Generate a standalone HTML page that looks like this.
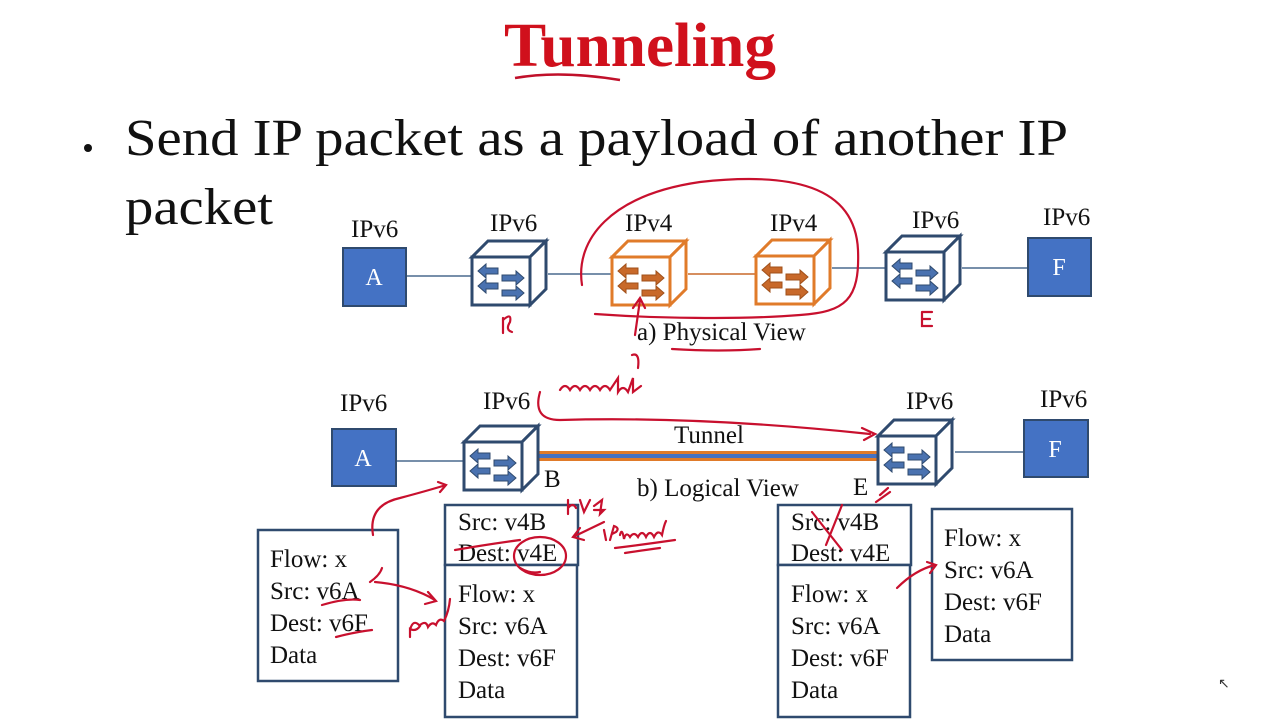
<!DOCTYPE html>
<html><head><meta charset="utf-8"><style>
html,body{margin:0;padding:0;background:#fff;}
svg{display:block;}
text{font-family:"Liberation Serif","Times New Roman",serif;fill:#111;}
</style></head><body>
<svg width="1280" height="720" viewBox="0 0 1280 720" xmlns="http://www.w3.org/2000/svg" font-family="Liberation Serif, serif">
<defs>
<g id="rb">
  <polygon points="0,16 16,0 74,0 58,16" fill="#fff" stroke="#2f4a6e" stroke-width="3"/>
  <polygon points="58,16 74,0 74,48 58,64" fill="#fff" stroke="#2f4a6e" stroke-width="3"/>
  <rect x="0" y="16" width="58" height="48" fill="#fff" stroke="#2f4a6e" stroke-width="3"/>
  <g fill="#4a72b0" stroke="#2f4a6e" stroke-width="1">
    <polygon points="6,30 14,23 14,27 26,27 26,33 14,33 14,37"/>
    <polygon points="6,45 14,38 14,42 26,42 26,48 14,48 14,52"/>
    <polygon points="52,37 44,30 44,34 30,34 30,40 44,40 44,44"/>
    <polygon points="52,52 44,45 44,49 30,49 30,55 44,55 44,59"/>
  </g>
</g>
<g id="ro">
  <polygon points="0,16 16,0 74,0 58,16" fill="#fff" stroke="#e07b2a" stroke-width="3"/>
  <polygon points="58,16 74,0 74,48 58,64" fill="#fff" stroke="#e07b2a" stroke-width="3"/>
  <rect x="0" y="16" width="58" height="48" fill="#fff" stroke="#e07b2a" stroke-width="3"/>
  <g fill="#c8692a" stroke="#a0501a" stroke-width="1">
    <polygon points="6,30 14,23 14,27 26,27 26,33 14,33 14,37"/>
    <polygon points="6,45 14,38 14,42 26,42 26,48 14,48 14,52"/>
    <polygon points="52,37 44,30 44,34 30,34 30,40 44,40 44,44"/>
    <polygon points="52,52 44,45 44,49 30,49 30,55 44,55 44,59"/>
  </g>
</g>
</defs>

<text x="640" y="66" text-anchor="middle" font-size="62" font-weight="bold" style="fill:#d0101c" textLength="272" lengthAdjust="spacingAndGlyphs">Tunneling</text>
<path d="M515,78 Q560,70 620,80" stroke="#c0102a" stroke-width="2.5" fill="none"/>
<circle cx="88" cy="148" r="4" fill="#111"/>
<text x="125" y="155" font-size="52" textLength="943" lengthAdjust="spacingAndGlyphs">Send IP packet as a payload of another IP</text>
<text x="125" y="224" font-size="52" textLength="148" lengthAdjust="spacingAndGlyphs">packet</text>

<line x1="406" y1="276" x2="472" y2="276" stroke="#4a6a8e" stroke-width="1.5"/>
<line x1="548" y1="274" x2="612" y2="274" stroke="#4a6a8e" stroke-width="1.5"/>
<line x1="688" y1="274" x2="756" y2="274" stroke="#c8692a" stroke-width="1.5"/>
<line x1="832" y1="268" x2="886" y2="268" stroke="#4a6a8e" stroke-width="1.5"/>
<line x1="962" y1="268" x2="1028" y2="268" stroke="#4a6a8e" stroke-width="1.5"/>
<rect x="343" y="248" width="63" height="58" fill="#4472c4" stroke="#2f4a6e" stroke-width="2"/>
<text x="374" y="285" text-anchor="middle" font-size="24" style="fill:#fff">A</text>
<rect x="1028" y="238" width="63" height="58" fill="#4472c4" stroke="#2f4a6e" stroke-width="2"/>
<text x="1059" y="275" text-anchor="middle" font-size="24" style="fill:#fff">F</text>
<use href="#rb" x="472" y="241"/>
<use href="#ro" x="612" y="241"/>
<use href="#ro" x="756" y="240"/>
<use href="#rb" x="886" y="236"/>
<g font-size="25">
<text x="351" y="237">IPv6</text>
<text x="490" y="231">IPv6</text>
<text x="625" y="231">IPv4</text>
<text x="770" y="231">IPv4</text>
<text x="912" y="228">IPv6</text>
<text x="1043" y="225">IPv6</text>
<text x="637" y="340">a) Physical View</text>
</g>

<line x1="396" y1="461" x2="464" y2="461" stroke="#4a6a8e" stroke-width="1.5"/>
<line x1="955" y1="452" x2="1024" y2="452" stroke="#4a6a8e" stroke-width="1.5"/>
<rect x="538" y="451" width="342" height="10" fill="#e07b2a"/>
<rect x="538" y="454" width="342" height="4" fill="#4472c4"/>
<rect x="332" y="429" width="64" height="57" fill="#4472c4" stroke="#2f4a6e" stroke-width="2"/>
<text x="363" y="466" text-anchor="middle" font-size="24" style="fill:#fff">A</text>
<rect x="1024" y="420" width="64" height="57" fill="#4472c4" stroke="#2f4a6e" stroke-width="2"/>
<text x="1055" y="457" text-anchor="middle" font-size="24" style="fill:#fff">F</text>
<use href="#rb" x="464" y="426"/>
<use href="#rb" x="878" y="420"/>
<g font-size="25">
<text x="340" y="411">IPv6</text>
<text x="483" y="409">IPv6</text>
<text x="906" y="409">IPv6</text>
<text x="1040" y="407">IPv6</text>
<text x="674" y="443">Tunnel</text>
<text x="544" y="487">B</text>
<text x="853" y="495">E</text>
<text x="637" y="496">b) Logical View</text>
</g>

<g fill="#fff" stroke="#2f4a6e" stroke-width="2.5">
<rect x="258" y="530" width="140" height="151"/>
<rect x="445" y="505" width="133" height="60"/>
<rect x="445" y="565" width="132" height="152"/>
<rect x="778" y="505" width="133" height="60"/>
<rect x="778" y="565" width="132" height="152"/>
<rect x="932" y="509" width="140" height="151"/>
</g>
<g font-size="25">
<text x="270" y="567">Flow: x</text><text x="270" y="599">Src: v6A</text><text x="270" y="631">Dest: v6F</text><text x="270" y="663">Data</text>
<text x="458" y="530">Src: v4B</text><text x="458" y="561">Dest: v4E</text>
<text x="458" y="602">Flow: x</text><text x="458" y="634">Src: v6A</text><text x="458" y="666">Dest: v6F</text><text x="458" y="698">Data</text>
<text x="791" y="530">Src: v4B</text><text x="791" y="561">Dest: v4E</text>
<text x="791" y="602">Flow: x</text><text x="791" y="634">Src: v6A</text><text x="791" y="666">Dest: v6F</text><text x="791" y="698">Data</text>
<text x="944" y="546">Flow: x</text><text x="944" y="578">Src: v6A</text><text x="944" y="610">Dest: v6F</text><text x="944" y="642">Data</text>
</g>

<g stroke="#c8102e" stroke-width="2.2" fill="none" stroke-linecap="round">
<path d="M582,285 C575,240 610,195 700,182 C790,172 855,185 858,250 C860,300 845,312 800,315 C740,320 650,318 595,314"/>
<path d="M635,335 L640,300 M633,308 L640,298 L645,308"/>
<path d="M672,349 Q720,352 760,349"/>
<path d="M503,320 Q512,312 510,322 Q505,330 512,332 M503,318 L503,333"/>
<path d="M922,312 L932,312 M922,312 L922,326 L932,326 M922,319 L930,319"/>
<path d="M632,355 Q640,352 638,368"/>
<path d="M560,390 q5,-8 10,0 q5,-8 10,0 q5,-8 10,0 q5,-8 10,0 q5,-8 10,0 l8,-12 l0,14 q5,-8 10,0 l5,-14 l0,14 l8,-6"/>
<path d="M540,392 Q532,420 560,420 Q700,416 870,434 M862,428 L875,434 L864,440"/>
<path d="M373,535 Q368,505 400,498 Q430,490 446,485 M438,482 L446,485 L440,492"/>
<path d="M370,582 Q380,575 382,568 M322,605 Q345,598 360,600 M336,637 Q355,632 372,630"/>
<path d="M375,582 Q410,585 435,600 M428,592 L436,601 L425,604"/>
<path d="M410,630 q3,-12 10,-4 q-4,6 -10,3 l0,8 M420,625 q6,-5 8,2 q4,-6 8,-2 q3,-8 8,-4 q5,-10 6,-22"/>
<path d="M455,550 Q490,544 520,540"/>
<ellipse cx="540" cy="556" rx="26" ry="19"/>
<path d="M520,568 Q530,574 540,572"/>
<path d="M568,500 l0,14 M568,508 q5,-6 8,0 M580,500 l4,12 l6,-12 M594,506 l8,-6 l-2,14 l4,-4 l-10,0"/>
<path d="M604,522 L575,536 M580,528 L573,537 L584,540"/>
<path d="M604,530 l2,10 M610,540 l4,-14 q6,2 2,6 l-4,2 M620,535 q2,-8 4,4 q2,-8 6,-2 q4,-6 8,0 q4,-8 8,0 q4,-8 8,0 q4,-8 8,-2 q2,-10 4,-14 M615,548 Q640,545 675,540 M625,553 Q645,550 660,548"/>
<path d="M812,512 L842,550 M842,505 L826,545 M880,495 L888,488 M876,502 L890,492"/>
<path d="M897,588 Q915,570 935,565 M927,562 L936,565 L930,573"/>
</g>
<text x="1218" y="688" font-size="14" style="fill:#333">↖</text>
</svg>
</body></html>
